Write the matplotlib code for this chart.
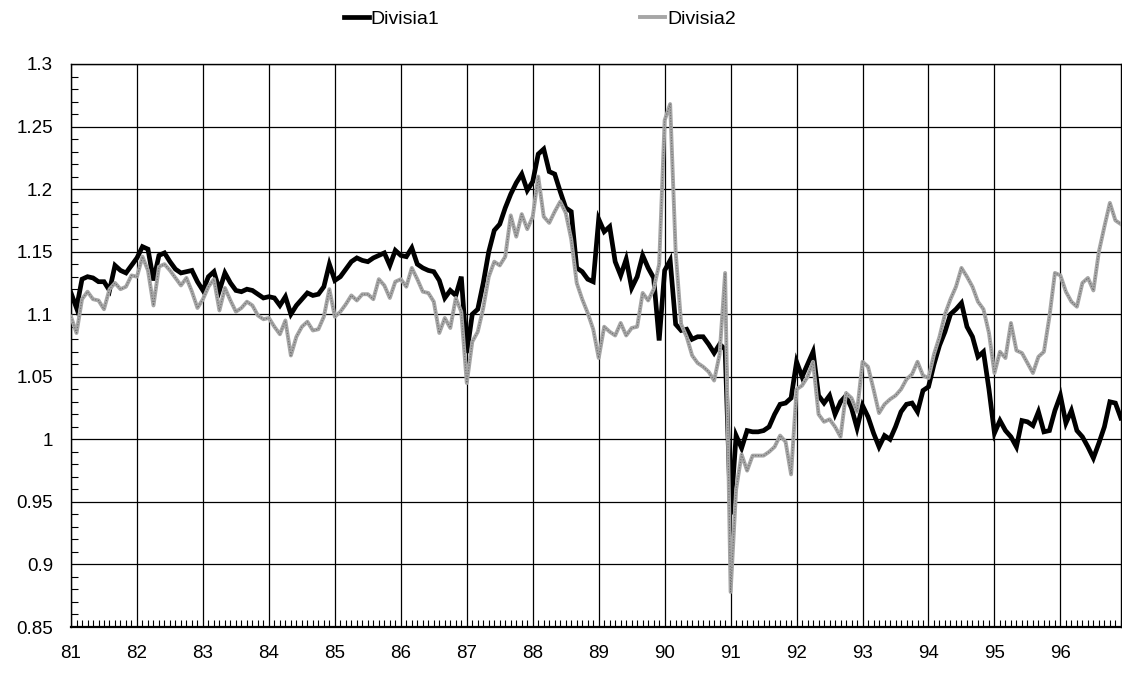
import numpy as np
import matplotlib
matplotlib.use("Agg")
import matplotlib.pyplot as plt
from matplotlib.ticker import MultipleLocator, FixedLocator, FuncFormatter

plt.rcParams["font.family"] = ["Liberation Sans", "DejaVu Sans"]

# monthly data, Jan 1981 .. Dec 1996
divisia1 = [
    1.117, 1.105, 1.128, 1.130, 1.129, 1.126, 1.126, 1.119, 1.139, 1.135, 1.133, 1.139,
    1.145, 1.154, 1.152, 1.127, 1.147, 1.149, 1.142, 1.136, 1.133, 1.134, 1.135, 1.126,
    1.119, 1.130, 1.134, 1.119, 1.133, 1.125, 1.119, 1.118, 1.120, 1.119, 1.116, 1.113,
    1.114, 1.113, 1.107, 1.114, 1.100, 1.107, 1.112, 1.117, 1.115, 1.116, 1.122, 1.140,
    1.127, 1.130, 1.136, 1.142, 1.145, 1.143, 1.142, 1.145, 1.147, 1.149, 1.139, 1.151,
    1.147, 1.146, 1.153, 1.140, 1.137, 1.135, 1.134, 1.127, 1.113, 1.119, 1.115, 1.130,
    1.069, 1.100, 1.104, 1.125, 1.150, 1.167, 1.172, 1.185, 1.196, 1.205, 1.212, 1.199,
    1.206, 1.228, 1.232, 1.214, 1.212, 1.198, 1.185, 1.182, 1.137, 1.134, 1.128, 1.126,
    1.176, 1.166, 1.170, 1.142, 1.131, 1.144, 1.121, 1.130, 1.147, 1.137, 1.129, 1.079,
    1.135, 1.143, 1.092, 1.087, 1.088, 1.080, 1.082, 1.082, 1.076, 1.069, 1.076, 1.072,
    0.940, 1.003, 0.993, 1.007, 1.006, 1.006, 1.007, 1.010, 1.020, 1.028, 1.029, 1.033,
    1.062, 1.050, 1.060, 1.070, 1.035, 1.029, 1.035, 1.020, 1.030, 1.035, 1.025, 1.009,
    1.027, 1.018, 1.005, 0.994, 1.003, 1.000, 1.010, 1.022, 1.028, 1.029, 1.022, 1.039,
    1.042, 1.060, 1.075, 1.086, 1.100, 1.104, 1.109, 1.090, 1.082, 1.066, 1.070, 1.040,
    1.005, 1.015, 1.007, 1.002, 0.994, 1.015, 1.014, 1.011, 1.022, 1.006, 1.007, 1.023,
    1.035, 1.013, 1.023, 1.007, 1.002, 0.994, 0.985, 0.997, 1.010, 1.030, 1.029, 1.017,
]

divisia2 = [
    1.098, 1.085, 1.112, 1.118, 1.112, 1.111, 1.104, 1.120, 1.125, 1.120, 1.122, 1.131,
    1.130, 1.146, 1.135, 1.107, 1.138, 1.140, 1.135, 1.129, 1.123, 1.129, 1.118, 1.105,
    1.112, 1.122, 1.128, 1.103, 1.121, 1.111, 1.102, 1.105, 1.110, 1.107, 1.099, 1.096,
    1.097, 1.090, 1.084, 1.095, 1.067, 1.082, 1.090, 1.094, 1.087, 1.088, 1.098, 1.120,
    1.098, 1.102, 1.108, 1.115, 1.111, 1.116, 1.116, 1.112, 1.128, 1.123, 1.113, 1.126,
    1.128, 1.122, 1.137, 1.128, 1.118, 1.117, 1.110, 1.085, 1.097, 1.089, 1.113, 1.102,
    1.045, 1.078, 1.086, 1.105, 1.130, 1.142, 1.139, 1.146, 1.179, 1.162, 1.180, 1.168,
    1.178, 1.210, 1.178, 1.173, 1.182, 1.190, 1.181, 1.160, 1.125, 1.112, 1.101, 1.088,
    1.065, 1.090, 1.086, 1.083, 1.093, 1.083, 1.089, 1.090, 1.117, 1.111, 1.120, 1.140,
    1.255, 1.268, 1.150, 1.092, 1.082, 1.067, 1.061, 1.058, 1.054, 1.047, 1.068, 1.133,
    0.878, 0.960, 0.988, 0.975, 0.987, 0.987, 0.987, 0.990, 0.994, 1.003, 0.998, 0.972,
    1.040, 1.043, 1.050, 1.062, 1.020, 1.014, 1.016, 1.010, 1.002, 1.037, 1.033, 1.022,
    1.062, 1.058, 1.040, 1.021, 1.028, 1.032, 1.035, 1.040, 1.048, 1.052, 1.062, 1.051,
    1.049, 1.068, 1.082, 1.100, 1.112, 1.122, 1.137, 1.130, 1.122, 1.110, 1.104, 1.085,
    1.053, 1.070, 1.065, 1.093, 1.071, 1.069, 1.061, 1.053, 1.066, 1.070, 1.098, 1.133,
    1.131, 1.118, 1.110, 1.106, 1.125, 1.129, 1.119, 1.150, 1.170, 1.189, 1.175, 1.172,
]

year_labels = ["81", "82", "83", "84", "85", "86", "87", "88",
               "89", "90", "91", "92", "93", "94", "95", "96"]

months = np.arange(len(divisia1))

fig = plt.figure(figsize=(11.22, 6.75), dpi=100)
ax = fig.add_axes([0.0633, 0.0711, 0.9357, 0.8341])

ax.plot(months, divisia1, color="black", lw=3.4, solid_joinstyle="miter",
        label="Divisia1", zorder=3)
ax.plot(months, divisia2, color="#a6a6a6", lw=2.8, label="Divisia2", zorder=4)
ax.plot(months, divisia2, color="#6e6e6e", lw=0.8, ls=(0, (1, 1.5)), zorder=5)

ax.set_xlim(0, len(divisia1) - 1)
ax.set_ylim(0.85, 1.3)

ax.xaxis.set_major_locator(FixedLocator(np.arange(0, len(divisia1), 12)))
ax.set_xticklabels(year_labels)
ax.xaxis.set_minor_locator(MultipleLocator(1))
ax.yaxis.set_major_locator(MultipleLocator(0.05))
ax.yaxis.set_minor_locator(MultipleLocator(0.01))
ax.yaxis.set_major_formatter(FuncFormatter(lambda v, p: f"{v:g}"))

ax.grid(True, which="major", color="black", lw=0.9)
ax.tick_params(which="major", length=0, labelsize=13.5, colors="black")
ax.tick_params(axis="x", which="major", pad=13)
ax.tick_params(axis="y", which="major", pad=13)
ax.tick_params(which="minor", direction="in", length=5, width=0.8)
ax.tick_params(axis="x", which="minor", top=False)
ax.tick_params(axis="y", which="minor", right=False)

for sp in ax.spines.values():
    sp.set_linewidth(1.0)
ax.spines["bottom"].set_linewidth(1.6)

leg = fig.legend(loc="center", bbox_to_anchor=(0.481, 0.972), ncol=2,
                 frameon=False, fontsize=14, handlelength=1.3,
                 handletextpad=0.1, columnspacing=10.3)

fig.savefig("out.png", dpi=100)
